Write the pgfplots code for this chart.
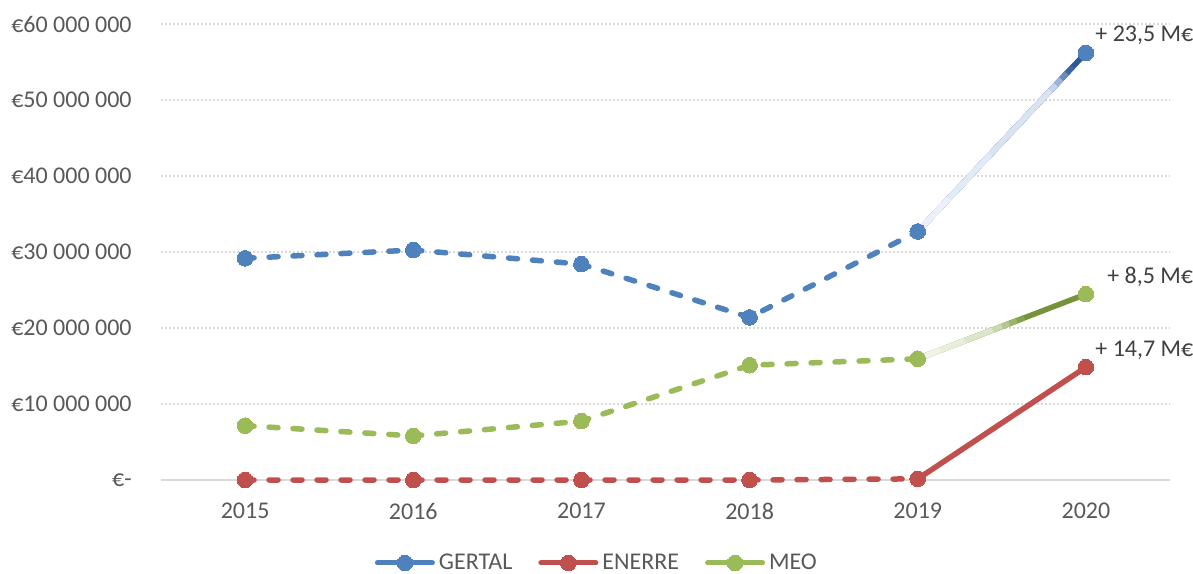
\documentclass[border=0pt]{standalone}
\usepackage{pgfplots}
\pgfplotsset{compat=1.18}
\usepackage{fontspec}
\setmainfont{Carlito}
\definecolor{cBlue}{HTML}{4F81BD}
\definecolor{cRed}{HTML}{C0504D}
\definecolor{cGreen}{HTML}{9BBB59}
\definecolor{tickgray}{HTML}{595959}
\definecolor{annot}{HTML}{404040}
\definecolor{gridgray}{HTML}{D9D9D9}
\begin{document}
\begin{tikzpicture}
\useasboundingbox (-80.5pt,-46.5pt) rectangle (516pt,240pt);
\begin{axis}[
  scale only axis, width=504.5pt, height=228pt,
  xmin=-0.5, xmax=5.5, ymin=0, ymax=60,
  clip=false,
  axis x line=bottom, axis y line=left,
  x axis line style={draw=gridgray, line width=0.75pt, -},
  y axis line style={draw=none},
  xtick={0,1,2,3,4,5}, xticklabels={2015,2016,2017,2018,2019,2020},
  ytick={0,10,20,30,40,50,60},
  yticklabels={€-, €10 000 000, €20 000 000, €30 000 000, €40 000 000, €50 000 000, €60 000 000},
  major tick length=0pt,
  tick label style={font=\fontsize{12}{14}\selectfont, text=tickgray},
  yticklabel style={anchor=east, inner sep=0pt, xshift=-14.5pt},
  xticklabel style={anchor=north, inner sep=0pt, yshift=-11.5pt},
  ymajorgrids, grid style={draw=gridgray, line width=0.75pt, dash pattern=on 1pt off 1pt},
  every axis plot/.append style={line width=2.75pt},
  legend style={at={(axis description cs:0.433,-0.182)}, anchor=center, draw=none, fill=none,
    font=\fontsize{12}{14}\selectfont, text=tickgray, inner sep=0pt},
  legend columns=3,
  legend cell align=left,
  /tikz/every even column/.append style={column sep=11pt},
  legend image code/.code={\draw[#1,solid,line width=2.5pt,mark repeat=2,mark phase=2] plot coordinates {(0pt,0pt) (13.75pt,0pt) (27.5pt,0pt)};},
  mydash/.style={line cap=round, dash pattern=on 4.5pt off 7.5pt},
  mk/.style={mark=*, mark size=3.9pt, mark options={solid, fill=#1, draw=#1, line width=0pt}},
  grad/.style={forget plot, no markers, line cap=butt, line width=2.75pt},
]
% ---- GERTAL gradient last segment
\addplot[grad, color={rgb,255:red,46;green,88;blue,150}] coordinates {(4,32.7) (5,56.2)};
\addplot[grad, color={rgb,255:red,61;green,102;blue,166}, shorten >=9.5pt] coordinates {(4,32.7) (5,56.2)};
\addplot[grad, color={rgb,255:red,106;green,139;blue,192}, shorten >=14pt] coordinates {(4,32.7) (5,56.2)};
\addplot[grad, color={rgb,255:red,157;green,179;blue,217}, shorten >=18pt] coordinates {(4,32.7) (5,56.2)};
\addplot[grad, color={rgb,255:red,198;green,212;blue,235}, shorten >=22pt] coordinates {(4,32.7) (5,56.2)};
\addplot[grad, color={rgb,255:red,217;green,227;blue,242}, shorten >=26pt] coordinates {(4,32.7) (5,56.2)};
\addplot[grad, color={rgb,255:red,226;green,234;blue,246}, shorten >=70pt] coordinates {(4,32.7) (5,56.2)};
\addplot[grad, color={rgb,255:red,236;green,241;blue,249}, shorten >=100pt] coordinates {(4,32.7) (5,56.2)};
% ---- GERTAL dashed
\addplot[cBlue, mydash, mk=cBlue] coordinates {(0,29.17) (1,30.26) (2,28.4) (3,21.4) (4,32.7)};
\addlegendentry{GERTAL}
\addplot[forget plot, only marks, mk=cBlue] coordinates {(5,56.2)};
% ---- ENERRE
\addplot[forget plot, cRed, solid, line cap=round, no markers] coordinates {(4,0.15) (5,14.85)};
\addplot[cRed, mydash, mk=cRed] coordinates {(0,0) (1,0) (2,0) (3,0) (4,0.15)};
\addlegendentry{ENERRE}
\addplot[forget plot, only marks, mk=cRed] coordinates {(5,14.85)};
% ---- MEO gradient last segment
\addplot[grad, color={rgb,255:red,118;green,147;blue,60}] coordinates {(4,15.95) (5,24.45)};
\addplot[grad, color={rgb,255:red,134;green,162;blue,77}, shorten >=33pt] coordinates {(4,15.95) (5,24.45)};
\addplot[grad, color={rgb,255:red,155;green,179;blue,106}, shorten >=37pt] coordinates {(4,15.95) (5,24.45)};
\addplot[grad, color={rgb,255:red,180;green,199;blue,141}, shorten >=41pt] coordinates {(4,15.95) (5,24.45)};
\addplot[grad, color={rgb,255:red,203;green,216;blue,177}, shorten >=45pt] coordinates {(4,15.95) (5,24.45)};
\addplot[grad, color={rgb,255:red,221;green,230;blue,204}, shorten >=50pt] coordinates {(4,15.95) (5,24.45)};
\addplot[grad, color={rgb,255:red,232;green,238;blue,220}, shorten >=65pt] coordinates {(4,15.95) (5,24.45)};
\addplot[grad, color={rgb,255:red,240;green,244;blue,232}, shorten >=78pt] coordinates {(4,15.95) (5,24.45)};
% ---- MEO dashed
\addplot[cGreen, mydash, mk=cGreen] coordinates {(0,7.15) (1,5.8) (2,7.75) (3,15.1) (4,15.95)};
\addlegendentry{MEO}
\addplot[forget plot, only marks, mk=cGreen] coordinates {(5,24.45)};
% ---- annotations
\node[anchor=west, inner sep=0pt, text=annot, font=\fontsize{12}{14}\selectfont] at (axis cs:5.054,58.55) {+ 23,5 M€};
\node[anchor=west, inner sep=0pt, text=annot, font=\fontsize{12}{14}\selectfont] at (axis cs:5.125,26.7) {+ 8,5 M€};
\node[anchor=west, inner sep=0pt, text=annot, font=\fontsize{12}{14}\selectfont] at (axis cs:5.054,17.1) {+ 14,7 M€};
\end{axis}
\end{tikzpicture}
\end{document}
